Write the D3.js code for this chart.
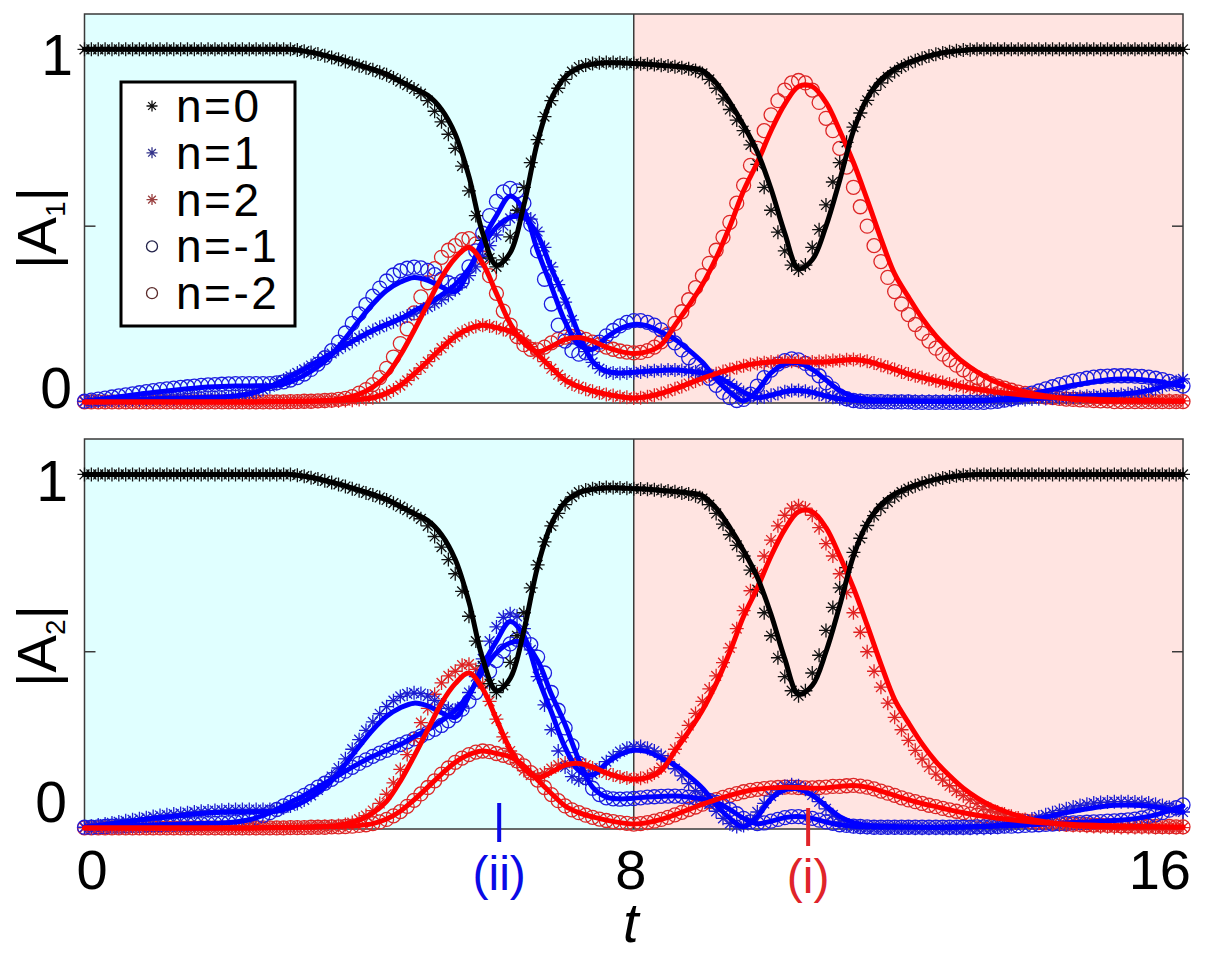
<!DOCTYPE html>
<html>
<head>
<meta charset="utf-8">
<script src="https://cdn.jsdelivr.net/npm/d3@7"></script>
<style>
  html, body { margin: 0; padding: 0; background: #fff; }
  svg { display: block; }
  text { font-family: "Liberation Sans", Arial, sans-serif; }
</style>
</head>
<body>
<svg id="chart" width="1218" height="954"></svg>
<script>
/**
 * |A1| and |A2| versus t for the harmonics n = 0, +-1, +-2.
 * Lines: analytic curves, sampled every 0.2.
 * Markers: numerical results, sampled every 0.1.
 */

// Globals.
var T_LINE = d3.range(81).map(function(i){ return +(i * 0.2).toFixed(1); });
var T_PTS = d3.range(161).map(function(i){ return +(i * 0.1).toFixed(1); });

var X_TICKS = [0, 8, 16];
var X_TICK_LABELS = ['0', '8', '16'];
var Y_TICKS = [0, 1];
var Y_TICK_LABELS = ['0', '1'];
var LEGEND_LABELS = ['n=0', 'n=1', 'n=2', 'n=-1', 'n=-2'];
var NOTE_TIMES = [6.04, 10.54];
var NOTE_LABELS = ['(ii)', '(i)'];

// ---- |A1|, solid lines (t = 0, 0.2, ... 16) ----
var a1_n0 = [1,1,1,1,1,1,1,1,1,1,1,1,1,1,1,
  1,0.995,0.988,0.978,0.968,0.956,0.944,0.93,0.91,0.89,
  0.87,0.83,0.76,0.64,0.48,0.39,0.425,0.56,0.74,0.86,
  0.922,0.948,0.958,0.962,0.962,0.96,0.958,0.955,0.952,0.948,
  0.94,0.905,0.85,0.785,0.71,0.605,0.48,0.38,0.405,0.5,
  0.63,0.77,0.862,0.915,0.945,0.963,0.976,0.986,0.993,0.997,
  1,1,1,1,1,1,1,1,1,1,1,1,1,1,1,1];
var a1_n1 = [0.005,0.006,0.008,0.009,0.01,0.012,0.013,0.014,0.015,0.016,
  0.017,0.02,0.026,0.038,0.055,0.075,0.095,0.118,0.14,0.163,
  0.185,0.205,0.222,0.238,0.26,0.28,0.305,0.335,0.38,0.445,
  0.497,0.525,0.525,0.475,0.38,0.295,0.195,0.118,0.09,0.085,
  0.087,0.09,0.092,0.093,0.09,0.085,0.075,0.055,0.03,0.015,
  0.022,0.032,0.035,0.03,0.02,0.012,0.008,0.006,0.005,0.005,
  0.005,0.005,0.005,0.006,0.006,0.007,0.008,0.009,0.01,0.012,
  0.014,0.016,0.018,0.02,0.022,0.024,0.027,0.032,0.04,0.052,
  0.065];
var a1_n2 = [0.003,0.003,0.003,0.003,0.003,0.003,0.003,0.003,0.003,0.003,
  0.003,0.003,0.003,0.004,0.004,0.005,0.005,0.006,0.007,0.008,
  0.01,0.015,0.028,0.05,0.082,0.118,0.155,0.188,0.21,0.22,
  0.213,0.203,0.178,0.138,0.1,0.065,0.046,0.034,0.025,0.018,
  0.014,0.018,0.027,0.04,0.055,0.07,0.083,0.095,0.105,0.112,
  0.116,0.118,0.117,0.115,0.116,0.12,0.123,0.118,0.107,0.095,
  0.082,0.072,0.063,0.054,0.046,0.039,0.033,0.028,0.024,0.02,
  0.017,0.015,0.013,0.011,0.01,0.009,0.008,0.007,0.007,0.006,
  0.006];
var a1_m1 = [0.005,0.01,0.015,0.02,0.025,0.03,0.034,0.038,0.042,0.045,
  0.047,0.048,0.048,0.049,0.05,0.06,0.078,0.103,0.136,0.183,
  0.233,0.28,0.318,0.342,0.355,0.347,0.328,0.315,0.375,0.46,
  0.53,0.585,0.545,0.43,0.33,0.23,0.165,0.152,0.185,0.21,
  0.222,0.218,0.2,0.18,0.15,0.115,0.068,0.03,0.006,0.035,
  0.085,0.11,0.113,0.095,0.065,0.035,0.018,0.01,0.008,0.007,
  0.006,0.005,0.004,0.004,0.005,0.006,0.008,0.012,0.018,0.026,
  0.034,0.042,0.05,0.057,0.063,0.067,0.068,0.066,0.062,0.055,
  0.047];
var a1_m2 = [0.003,0.003,0.003,0.003,0.003,0.003,0.003,0.003,0.003,0.003,
  0.003,0.003,0.003,0.003,0.004,0.004,0.005,0.006,0.008,0.014,
  0.025,0.045,0.078,0.135,0.205,0.28,0.355,0.41,0.44,0.395,
  0.31,0.225,0.17,0.145,0.16,0.18,0.185,0.175,0.158,0.146,
  0.14,0.145,0.165,0.22,0.275,0.335,0.41,0.5,0.6,0.68,
  0.77,0.845,0.895,0.895,0.85,0.77,0.68,0.575,0.465,0.365,
  0.3,0.24,0.19,0.15,0.115,0.088,0.066,0.05,0.037,0.027,
  0.02,0.014,0.01,0.008,0.006,0.005,0.005,0.005,0.005,0.005,
  0.005];

// ---- |A1|, markers (t = 0, 0.1, ... 16) ----
var a1_n0_pts = [1,1,1,1,1,1,1,1,1,1,1,1,1,1,1,1,1,1,1,1,1,1,1,1,1,1,1,1,1,1,
  1,0.998,0.995,0.991,0.987,0.982,0.977,0.972,0.966,0.96,
  0.954,0.948,0.942,0.935,0.928,0.919,0.909,0.899,0.888,0.875,
  0.855,0.825,0.795,0.76,0.72,0.67,0.6,0.53,0.46,0.41,
  0.385,0.405,0.47,0.545,0.61,0.68,0.745,0.81,0.855,0.89,
  0.915,0.937,0.95,0.956,0.96,0.962,0.963,0.963,0.962,0.961,
  0.96,0.959,0.958,0.957,0.955,0.953,0.951,0.948,0.945,0.94,
  0.932,0.915,0.89,0.86,0.83,0.8,0.77,0.73,0.675,0.61,
  0.545,0.483,0.43,0.39,0.376,0.39,0.44,0.49,0.56,0.625,
  0.68,0.737,0.78,0.82,0.856,0.884,0.905,0.922,0.937,0.95,
  0.96,0.968,0.975,0.981,0.986,0.99,0.993,0.996,0.998,0.999,
  1,1,1,1,1,1,1,1,1,1,1,1,1,1,1,1,1,1,1,1,1,1,1,1,1,1,1,1,1,1,1];
var a1_n1_pts = [0.005,0.005,0.006,0.007,0.008,0.008,0.009,0.01,0.01,0.011,
  0.012,0.012,0.013,0.013,0.014,0.014,0.015,0.015,0.016,0.016,
  0.017,0.018,0.02,0.022,0.026,0.031,0.038,0.046,0.055,0.065,
  0.075,0.085,0.095,0.106,0.118,0.129,0.14,0.152,0.163,0.174,
  0.185,0.195,0.205,0.214,0.222,0.23,0.238,0.246,0.254,0.262,
  0.271,0.281,0.292,0.305,0.32,0.338,0.36,0.385,0.415,0.445,
  0.475,0.502,0.522,0.535,0.535,0.52,0.485,0.44,0.385,0.335,
  0.285,0.235,0.185,0.145,0.115,0.097,0.088,0.085,0.084,0.085,
  0.086,0.088,0.09,0.091,0.092,0.093,0.093,0.092,0.09,0.088,
  0.085,0.081,0.075,0.066,0.055,0.043,0.03,0.02,0.015,0.017,
  0.022,0.027,0.032,0.035,0.035,0.033,0.03,0.025,0.02,0.016,
  0.012,0.01,0.008,0.007,0.006,0.005,0.005,0.005,0.005,0.005,
  0.005,0.005,0.005,0.005,0.005,0.005,0.005,0.005,0.005,0.005,
  0.006,0.006,0.007,0.007,0.008,0.008,0.009,0.01,0.011,0.012,
  0.013,0.014,0.015,0.016,0.017,0.018,0.019,0.02,0.021,0.022,
  0.023,0.024,0.026,0.028,0.031,0.035,0.04,0.046,0.053,0.06,
  0.068];
var a1_n2_pts = [0.003,0.003,0.003,0.003,0.003,0.003,0.003,0.003,0.003,0.003,
  0.003,0.003,0.003,0.003,0.003,0.003,0.003,0.003,0.003,0.003,
  0.003,0.003,0.003,0.003,0.003,0.003,0.003,0.003,0.003,0.003,
  0.004,0.004,0.004,0.005,0.005,0.005,0.006,0.006,0.007,0.008,
  0.01,0.012,0.015,0.02,0.027,0.037,0.049,0.064,0.081,0.099,
  0.117,0.136,0.155,0.172,0.188,0.2,0.21,0.217,0.22,0.218,
  0.213,0.208,0.202,0.192,0.178,0.159,0.138,0.117,0.097,0.08,
  0.065,0.054,0.046,0.039,0.033,0.028,0.024,0.021,0.018,0.016,
  0.014,0.015,0.018,0.022,0.027,0.033,0.04,0.047,0.055,0.062,
  0.07,0.077,0.083,0.089,0.095,0.1,0.105,0.109,0.112,0.114,
  0.116,0.117,0.118,0.118,0.117,0.116,0.116,0.117,0.118,0.12,
  0.12,0.122,0.123,0.121,0.118,0.113,0.107,0.101,0.095,0.088,
  0.082,0.077,0.072,0.067,0.063,0.058,0.054,0.05,0.046,0.042,
  0.039,0.036,0.033,0.03,0.028,0.026,0.024,0.022,0.02,0.018,
  0.017,0.016,0.015,0.014,0.013,0.013,0.012,0.011,0.011,0.01,
  0.01,0.009,0.009,0.008,0.008,0.008,0.007,0.007,0.007,0.006,
  0.006];
var a1_m1_pts = [0.005,0.008,0.011,0.014,0.017,0.02,0.023,0.026,0.029,0.032,
  0.035,0.038,0.04,0.042,0.044,0.046,0.048,0.05,0.051,0.052,
  0.053,0.054,0.055,0.055,0.055,0.055,0.055,0.055,0.057,0.06,
  0.065,0.072,0.082,0.095,0.11,0.128,0.148,0.172,0.198,0.225,
  0.252,0.278,0.302,0.325,0.345,0.362,0.374,0.381,0.384,0.382,
  0.375,0.363,0.35,0.34,0.335,0.345,0.385,0.43,0.48,0.53,
  0.57,0.597,0.607,0.6,0.565,0.505,0.43,0.35,0.28,0.22,
  0.175,0.148,0.138,0.142,0.155,0.172,0.19,0.205,0.218,0.228,
  0.233,0.233,0.228,0.22,0.207,0.19,0.17,0.15,0.128,0.108,
  0.09,0.07,0.05,0.03,0.015,0.007,0.01,0.025,0.048,0.072,
  0.093,0.11,0.12,0.125,0.122,0.112,0.096,0.077,0.057,0.04,
  0.02,0.012,0.007,0.005,0.004,0.004,0.004,0.003,0.003,0.003,
  0.003,0.002,0.002,0.002,0.002,0.002,0.002,0.002,0.002,0.002,
  0.002,0.002,0.003,0.005,0.008,0.012,0.017,0.022,0.028,0.034,
  0.04,0.046,0.052,0.057,0.062,0.066,0.07,0.073,0.075,0.076,
  0.077,0.077,0.077,0.076,0.075,0.073,0.07,0.066,0.061,0.055,
  0.048];
var a1_m2_pts = [0.003,0.003,0.003,0.003,0.003,0.003,0.003,0.003,0.003,0.003,
  0.003,0.003,0.003,0.003,0.003,0.003,0.003,0.003,0.003,0.003,
  0.003,0.003,0.003,0.003,0.003,0.003,0.003,0.003,0.003,0.003,
  0.004,0.004,0.005,0.005,0.006,0.007,0.008,0.01,0.013,0.018,
  0.028,0.038,0.052,0.072,0.098,0.13,0.168,0.21,0.255,0.3,
  0.34,0.38,0.412,0.432,0.445,0.462,0.465,0.45,0.41,0.36,
  0.31,0.26,0.22,0.188,0.165,0.152,0.15,0.158,0.17,0.18,
  0.186,0.188,0.186,0.18,0.172,0.165,0.158,0.152,0.147,0.144,
  0.142,0.143,0.148,0.158,0.173,0.195,0.225,0.258,0.292,0.326,
  0.36,0.395,0.432,0.469,0.511,0.565,0.616,0.672,0.72,0.77,
  0.815,0.855,0.885,0.905,0.912,0.905,0.885,0.85,0.805,0.77,
  0.72,0.667,0.61,0.555,0.5,0.445,0.4,0.355,0.315,0.28,
  0.25,0.222,0.197,0.175,0.155,0.138,0.122,0.107,0.094,0.082,
  0.072,0.063,0.055,0.048,0.042,0.036,0.031,0.027,0.023,0.02,
  0.017,0.015,0.013,0.011,0.01,0.009,0.008,0.007,0.006,0.006,
  0.004,0.004,0.004,0.004,0.004,0.004,0.004,0.004,0.004,0.004,
  0.004];

// ---- |A2| reads the same as |A1| with n -> -n ----
var a2_n0 = a1_n0, a2_n0_pts = a1_n0_pts;
var a2_n1 = a1_m1, a2_n1_pts = a1_m1_pts;
var a2_n2 = a1_m2, a2_n2_pts = a1_m2_pts;
var a2_m1 = a1_n1, a2_m1_pts = a1_n1_pts;
var a2_m2 = a1_n2, a2_m2_pts = a1_n2_pts;

// Colours / styles.
var LINE_COLORS = ['#000000', '#0000ff', '#ff0000', '#0000ff', '#ff0000'];
var MARK_COLORS = ['#111111', '#1c1cd2', '#e02222', '#1c1ce0', '#dd2626'];
var LEGEND_COLORS = ['#111111', '#33338a', '#9a4040', '#22224a', '#5a2a2a'];
var MARK_TYPES = ['star', 'star', 'star', 'circle', 'circle'];

var LEFT = 84.5, RIGHT = 1183;
var panels = [
  { top: 14, bottom: 403, label: '1',
    lines: [a1_n0, a1_n1, a1_n2, a1_m1, a1_m2],
    pts: [a1_n0_pts, a1_n1_pts, a1_n2_pts, a1_m1_pts, a1_m2_pts],
    tickDy: [5, 26], tickX: [56, 57], labelY: 228 },
  { top: 439, bottom: 829, label: '2',
    lines: [a2_n0, a2_n1, a2_n2, a2_m1, a2_m2],
    pts: [a2_n0_pts, a2_n1_pts, a2_n2_pts, a2_m1_pts, a2_m2_pts],
    tickDy: [-7, 27], tickX: [51, 52], labelY: 646 }
];

var svg = d3.select('#chart');
var x = d3.scaleLinear().domain([0, 16]).range([LEFT, RIGHT]);

var starPath = function(s) {
  var k = s * 0.7;
  return 'M' + (-s) + ',0H' + s + 'M0,' + (-s) + 'V' + s +
    'M' + (-k) + ',' + (-k) + 'L' + k + ',' + k +
    'M' + (-k) + ',' + k + 'L' + k + ',' + (-k);
};

var drawMarker = function(g, type, color, px, py, size) {
  if (type === 'star') {
    g.append('path').attr('d', starPath(size))
      .attr('transform', 'translate(' + px + ',' + py + ')')
      .attr('fill', 'none').attr('stroke', color).attr('stroke-width', 1.3);
  } else {
    g.append('circle').attr('cx', px).attr('cy', py).attr('r', size)
      .attr('fill', 'none').attr('stroke', color).attr('stroke-width', 1.3);
  }
};

/**
 * drawPanel
 * =========
 * Background halves, frame, markers, lines and tick labels of one panel.
 */
var drawPanel = function(p) {
  var y = d3.scaleLinear().domain([0, 1.1]).range([p.bottom, p.top]);
  var g = svg.append('g');

  g.append('rect').attr('x', x(0)).attr('y', p.top)
    .attr('width', x(8) - x(0)).attr('height', p.bottom - p.top).attr('fill', '#e0ffff');
  g.append('rect').attr('x', x(8)).attr('y', p.top)
    .attr('width', x(16) - x(8)).attr('height', p.bottom - p.top).attr('fill', '#ffe4e1');

  // frame, centre line and inner ticks
  g.append('rect').attr('x', x(0)).attr('y', p.top)
    .attr('width', x(16) - x(0)).attr('height', p.bottom - p.top)
    .attr('fill', 'none').attr('stroke', '#3a3a3a').attr('stroke-width', 1.5);
  g.append('line').attr('x1', x(8)).attr('x2', x(8)).attr('y1', p.top).attr('y2', p.bottom)
    .attr('stroke', '#3a3a3a').attr('stroke-width', 1.5);
  [0.5, 1].forEach(function(v) {
    g.append('line').attr('x1', x(0)).attr('x2', x(0) + 11).attr('y1', y(v)).attr('y2', y(v))
      .attr('stroke', '#3a3a3a').attr('stroke-width', 1.5);
    g.append('line').attr('x1', x(16) - 11).attr('x2', x(16)).attr('y1', y(v)).attr('y2', y(v))
      .attr('stroke', '#3a3a3a').attr('stroke-width', 1.5);
  });

  // markers first, lines on top
  var mg = g.append('g');
  [4, 3, 2, 1, 0].forEach(function(k) {
    p.pts[k].forEach(function(v, i) {
      drawMarker(mg, MARK_TYPES[k], MARK_COLORS[k], x(T_PTS[i]), y(v),
        MARK_TYPES[k] === 'star' ? 7 : 7);
    });
  });

  var line = d3.line()
    .x(function(d, i) { return x(T_LINE[i]); })
    .y(function(d) { return y(d); })
    .curve(d3.curveCatmullRom.alpha(0.5));
  [3, 1, 4, 2, 0].forEach(function(k) {
    g.append('path').attr('d', line(p.lines[k]))
      .attr('fill', 'none').attr('stroke', LINE_COLORS[k])
      .attr('stroke-width', 5).attr('stroke-linejoin', 'round').attr('stroke-linecap', 'round');
  });

  // y tick labels
  Y_TICKS.forEach(function(v, i) {
    svg.append('text').attr('x', p.tickX[i]).attr('y', y(v) + p.tickDy[i])
      .attr('text-anchor', 'middle').style('font-size', '57px').text(Y_TICK_LABELS[i]);
  });

  // y axis label |A_n|
  var lab = svg.append('text')
    .attr('transform', 'translate(56,' + p.labelY + ') rotate(-90)')
    .attr('text-anchor', 'middle').style('font-size', '56px');
  lab.append('tspan').text('|A');
  lab.append('tspan').style('font-size', '28px').attr('dy', 9).text(p.label);
  lab.append('tspan').attr('dy', -9).text('|');
};

panels.forEach(drawPanel);

// legend (top panel)
var lg = svg.append('g');
lg.append('rect').attr('x', 121).attr('y', 82).attr('width', 174).attr('height', 244)
  .attr('fill', '#fff').attr('stroke', '#000').attr('stroke-width', 3);
LEGEND_LABELS.forEach(function(lbl, k) {
  var ry = 106 + k * 46.8;
  drawMarker(lg, MARK_TYPES[k], LEGEND_COLORS[k], 152, ry, MARK_TYPES[k] === 'star' ? 5.5 : 5.5);
  lg.append('text').attr('x', 176).attr('y', ry + 16)
    .style('font-size', '46px').style('letter-spacing', '2.5px').text(lbl);
});

// x tick labels
var xAnchor = ['start', 'middle', 'end'];
var xShift = [-8, -3, 8];
X_TICKS.forEach(function(v, i) {
  svg.append('text').attr('x', x(v) + xShift[i]).attr('y', 889)
    .attr('text-anchor', xAnchor[i]).style('font-size', '56px').text(X_TICK_LABELS[i]);
});
svg.append('text').attr('x', x(8) - 3).attr('y', 942).attr('text-anchor', 'middle')
  .style('font-size', '56px').style('font-style', 'italic').text('t');

// (ii) and (i) markers
var NOTE_COLORS = ['#0a0ae6', '#e0242a'];
var NOTE_Y = [[803, 842, 890], [808, 846, 893]];
NOTE_TIMES.forEach(function(tv, i) {
  svg.append('line').attr('x1', x(tv)).attr('x2', x(tv))
    .attr('y1', NOTE_Y[i][0]).attr('y2', NOTE_Y[i][1])
    .attr('stroke', NOTE_COLORS[i]).attr('stroke-width', 4);
  svg.append('text').attr('x', x(tv)).attr('y', NOTE_Y[i][2]).attr('text-anchor', 'middle')
    .style('font-size', '48px').attr('fill', NOTE_COLORS[i]).text(NOTE_LABELS[i]);
});
</script>
</body>
</html>
